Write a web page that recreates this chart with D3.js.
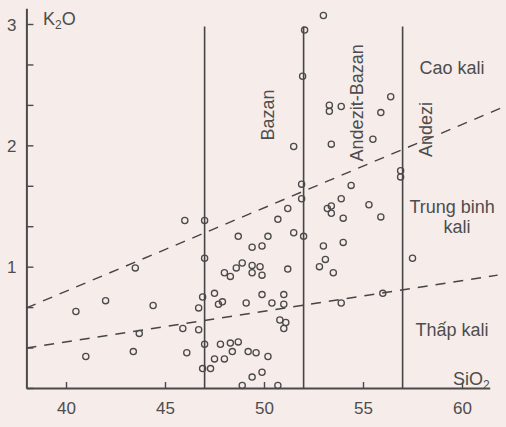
<!DOCTYPE html>
<html>
<head>
<meta charset="utf-8">
<script src="https://cdn.jsdelivr.net/npm/d3@7"></script>
<style>
  html, body { margin: 0; padding: 0; background: #f6ecea; }
  svg { display: block; font-family: "Liberation Sans", Arial, sans-serif; }
  .axis path, .axis line { stroke: #4a4a4a; }
  .axis text { fill: #4d4d4d; font-size: 17px; font-family: "Liberation Sans", Arial, sans-serif; }
  .label { fill: #4d4d4d; font-size: 18px; }
</style>
</head>
<body>
<div class="chart"></div>
<script>
"use strict";

// Tick values for both axes
const xTicks = [40, 45, 50, 55, 60];
const yTicks = [0, 1/3, 2/3, 1, 4/3, 5/3, 2, 7/3, 8/3, 3];
const yLabelled = [1, 2, 3];

// Vertical boundaries (SiO2) between rock types
const boundaries = [47, 52, 57];
const boundaryTop = 2.98;

// Dashed K2O dividers: [SiO2, K2O] end points
const highDivider = [[38, 0.66], [62.3, 2.33]];
const lowDivider = [[38, 0.33], [61.8, 0.93]];

// Field names
const rockNames = ["Bazan", "Andezit-Bazan", "Andezi"];
const potassiumNames = ["Cao kali", "Trung binh", "kali", "Thấp kali"];

// Sample analyses: SiO2, K2O
const sio2 = [
  40.5, 42.0, 44.4, 43.7, 41.0, 43.4, 43.5, 46.0, 45.9, 46.1, 46.7, 46.7,
  47.0, 47.0, 46.9, 47.0, 46.9,
  47.5, 47.7, 47.9, 47.3, 47.8, 48.3, 48.7, 48.4, 49.2, 49.6, 50.2, 47.5, 48.0,
  49.9, 49.4, 48.9, 50.7,
  48.0, 48.3, 48.6, 48.9, 49.4, 49.8, 49.4, 49.9,
  49.1, 49.9, 50.4, 51.0, 51.0, 50.8, 51.1, 51.0,
  48.7, 50.2, 49.4, 49.9, 50.7, 51.2, 51.5, 51.2, 51.5, 51.95,
  52.0, 51.9, 51.9, 52.05,
  53.0, 53.4, 53.3, 53.3, 53.9, 55.9, 55.5, 56.4, 56.9, 56.9,
  54.4, 53.9, 55.3, 55.9, 54.0, 53.2, 53.4, 53.4,
  53.0, 54.0, 53.1, 52.8, 53.5, 53.9, 56.0,
  57.5
];
const k2o = [
  0.63, 0.72, 0.68, 0.45, 0.26, 0.30, 0.99, 1.38, 0.49, 0.29, 0.66, 0.48,
  1.38, 1.07, 0.75, 0.36, 0.16,
  0.78, 0.69, 0.71, 0.16, 0.36, 0.37, 0.38, 0.30, 0.30, 0.29, 0.26, 0.24, 0.24,
  0.13, 0.09, 0.02, 0.02,
  0.95, 0.92, 0.99, 1.03, 1.01, 1.00, 0.95, 0.93,
  0.70, 0.77, 0.70, 0.77, 0.69, 0.56, 0.54, 0.49,
  1.25, 1.25, 1.16, 1.17, 1.39, 1.48, 1.28, 0.98, 1.99, 2.57,
  1.25, 1.68, 1.56, 2.95,
  3.07, 2.01, 2.33, 2.28, 2.32, 2.27, 2.05, 2.40, 1.79, 1.74,
  1.67, 1.56, 1.51, 1.41, 1.40, 1.48, 1.50, 1.44,
  1.17, 1.20, 1.06, 1.00, 0.95, 0.70, 0.78,
  1.07
];

const width = 506;
const height = 427;

const svg = d3.select(".chart")
  .append("svg")
    .attr("width", width)
    .attr("height", height);

// 19.8 px per % SiO2, 121.3 px per % K2O
const xScale = d3.scaleLinear()
  .domain([38, 61.4])
  .range([26.4, 26.4 + 23.4 * 19.8]);

const yScale = d3.scaleLinear()
  .domain([0, 3.13])
  .range([388, 388 - 3.13 * 121.33]);

// Axes with ticks pointing inwards
const xAxis = d3.axisBottom(xScale)
  .tickValues(xTicks)
  .tickSizeInner(-6)
  .tickSizeOuter(0)
  .tickPadding(14)
  .tickFormat(d3.format("d"));

const yAxis = d3.axisLeft(yScale)
  .tickValues(yTicks)
  .tickSizeInner(-7)
  .tickSizeOuter(0)
  .tickPadding(10)
  .tickFormat(d => yLabelled.some(v => Math.abs(v - d) < 1e-6) ? Math.round(d) : "");

svg.append("g")
    .attr("class", "axis axis-x")
    .attr("transform", `translate(0, ${yScale(0)})`)
    .call(xAxis)
  .call(g => g.select(".domain").attr("stroke-width", 2.2))
  .call(g => g.selectAll(".tick line").attr("stroke-width", 1.4));

svg.append("g")
    .attr("class", "axis axis-y")
    .attr("transform", `translate(${xScale(38)}, 0)`)
    .call(yAxis)
  .call(g => g.select(".domain").attr("stroke-width", 2))
  .call(g => g.selectAll(".tick line").attr("stroke-width", 1.4))
  .call(g => g.selectAll(".tick text").attr("dy", "0.36em"));

// Axis titles
svg.append("text")
    .attr("class", "label")
    .attr("x", 43)
    .attr("y", 25)
    .text("K")
  .append("tspan")
    .attr("font-size", "12px")
    .attr("dy", 4)
    .text("2")
  .select(function() { return this.parentNode; })
  .append("tspan")
    .attr("dy", -4)
    .text("O");

svg.append("text")
    .attr("class", "label")
    .attr("x", 453)
    .attr("y", 385)
    .text("SiO")
  .append("tspan")
    .attr("font-size", "12px")
    .attr("dy", 4)
    .text("2");

// Rock type boundaries
svg.append("g")
  .selectAll("line")
  .data(boundaries)
  .join("line")
    .attr("x1", d => xScale(d))
    .attr("x2", d => xScale(d))
    .attr("y1", yScale(0))
    .attr("y2", yScale(boundaryTop))
    .attr("stroke", "#454545")
    .attr("stroke-width", 1.6);

// Potassium dividers
const line = d3.line()
  .x(d => xScale(d[0]))
  .y(d => yScale(d[1]));

svg.append("g")
  .selectAll("path")
  .data([highDivider, lowDivider])
  .join("path")
    .attr("d", line)
    .attr("fill", "none")
    .attr("stroke", "#454545")
    .attr("stroke-width", 1.4)
    .attr("stroke-dasharray", "10,8");

// Samples
svg.append("g")
  .selectAll("circle")
  .data(d3.range(sio2.length))
  .join("circle")
    .attr("cx", i => xScale(sio2[i]))
    .attr("cy", i => yScale(k2o[i]))
    .attr("r", 3.1)
    .attr("fill", "none")
    .attr("stroke", "#4a4a4a")
    .attr("stroke-width", 1.3);

// Field names, rotated along the boundaries
const rockPos = [[50.2, 2.25], [54.7, 2.35], [58.2, 2.13]];
svg.append("g")
  .selectAll("text")
  .data(rockNames)
  .join("text")
    .attr("class", "label")
    .attr("text-anchor", "middle")
    .attr("dominant-baseline", "central")
    .attr("transform", (d, i) => `translate(${xScale(rockPos[i][0])}, ${yScale(rockPos[i][1])}) rotate(-90)`)
    .text(d => d);

const potassiumPos = [[59.5, 2.59], [59.5, 1.44], [59.75, 1.28], [59.5, 0.43]];
svg.append("g")
  .selectAll("text")
  .data(potassiumNames)
  .join("text")
    .attr("class", "label")
    .attr("text-anchor", "middle")
    .attr("x", (d, i) => xScale(potassiumPos[i][0]))
    .attr("y", (d, i) => yScale(potassiumPos[i][1]))
    .text(d => d);
</script>
</body>
</html>
